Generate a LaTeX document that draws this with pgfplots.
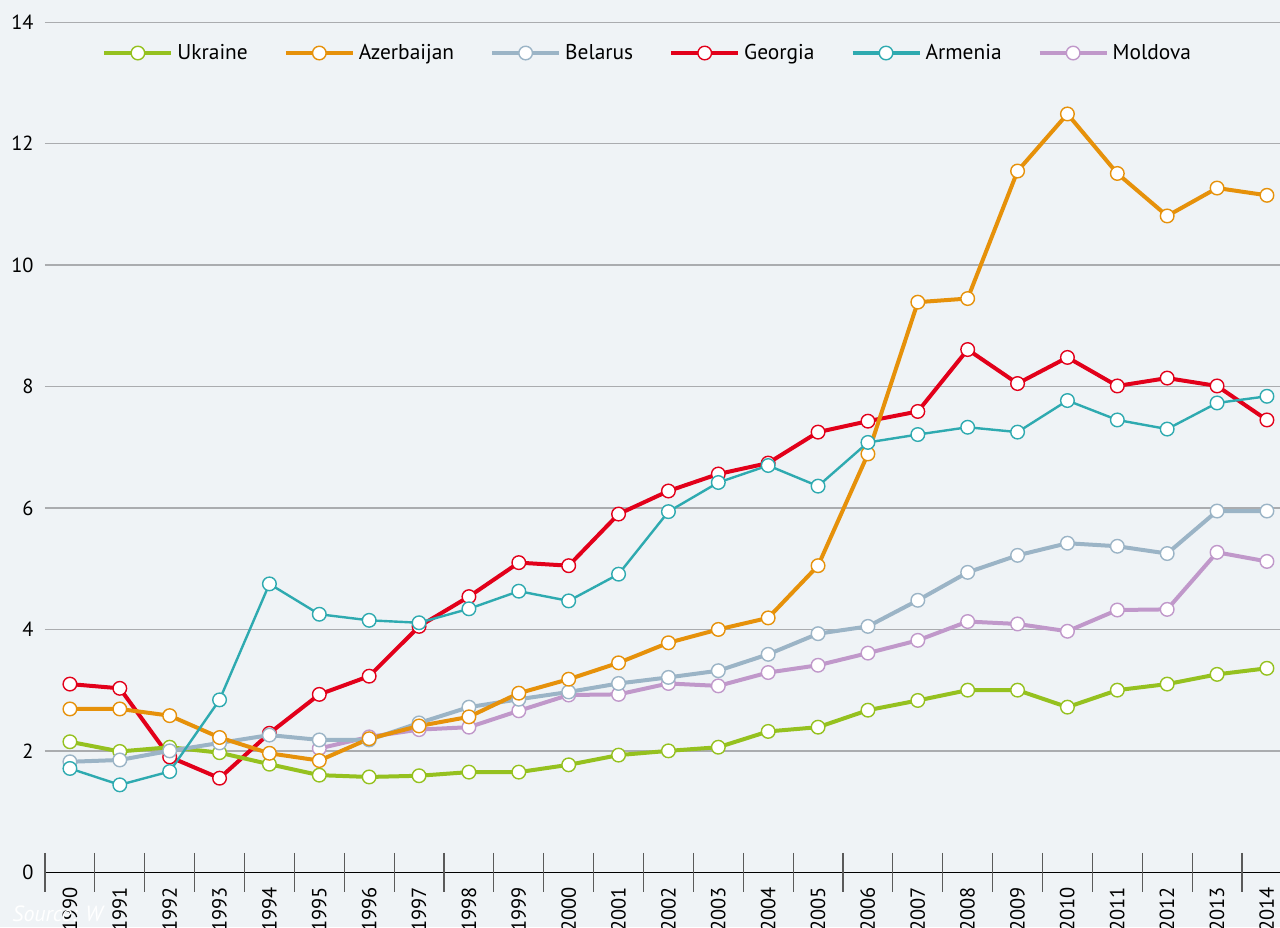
\documentclass[border=0pt]{standalone}
\usepackage{fontspec}
\setmainfont{PT Sans}
\usepackage{pgfplots}
\usepackage{pgfplotstable}
\pgfplotsset{compat=1.18}

\definecolor{bgc}{RGB}{239,243,246}
\definecolor{gridc}{RGB}{170,172,175}
\definecolor{tickc}{RGB}{90,90,90}
\definecolor{cukr}{RGB}{149,193,31}
\definecolor{caze}{RGB}{230,145,10}
\definecolor{cblr}{RGB}{155,180,198}
\definecolor{cgeo}{RGB}{226,0,26}
\definecolor{carm}{RGB}{46,170,176}
\definecolor{cmda}{RGB}{192,152,202}

% values
\pgfplotstableread{
year ukr  aze   blr  geo  arm  mda
1990 2.15 2.69  1.82 3.10 1.71 nan
1991 1.99 2.69  1.85 3.03 1.44 nan
1992 2.06 2.58  2.00 1.90 1.66 nan
1993 1.97 2.22  2.13 1.55 2.84 nan
1994 1.78 1.96  2.26 2.29 4.75 nan
1995 1.60 1.84  2.18 2.93 4.25 2.04
1996 1.57 2.20  2.18 3.23 4.15 2.23
1997 1.59 2.41  2.46 4.05 4.11 2.35
1998 1.65 2.56  2.72 4.54 4.34 2.39
1999 1.65 2.95  2.85 5.10 4.63 2.66
2000 1.77 3.18  2.97 5.05 4.47 2.92
2001 1.93 3.45  3.11 5.90 4.91 2.93
2002 2.00 3.78  3.21 6.28 5.94 3.11
2003 2.06 4.00  3.32 6.56 6.42 3.07
2004 2.32 4.19  3.59 6.74 6.70 3.29
2005 2.39 5.05  3.93 7.25 6.36 3.41
2006 2.67 6.89  4.05 7.43 7.08 3.61
2007 2.83 9.39  4.48 7.59 7.21 3.82
2008 3.00 9.45  4.94 8.61 7.33 4.13
2009 3.00 11.55 5.22 8.05 7.25 4.09
2010 2.72 12.49 5.42 8.48 7.77 3.97
2011 3.00 11.51 5.37 8.01 7.45 4.32
2012 3.10 10.81 5.25 8.14 7.30 4.33
2013 3.26 11.27 5.95 8.01 7.73 5.27
2014 3.36 11.15 5.95 7.45 7.84 5.12
}\data

\pgfplotsset{
  ser/.style={line width=2pt, mark=*, mark size=3.4pt,
    mark options={fill=white, line width=0.7pt}},
}

\begin{document}
\begin{tikzpicture}
\begin{axis}[
  scale only axis,
  width=640pt, height=463.5pt,
  xmin=1988.598, xmax=2014.262,
  ymin=-0.901, ymax=14.367,
  axis line style={draw=none},
  tick style={draw=none},
  axis background/.style={fill=bgc},
  xtick={1990,...,2014},
  ytick={0,2,...,14},
  /pgf/number format/1000 sep={},
  /pgf/number format/assume math mode=true,
  ticklabel style={font=\fontsize{10.2}{12}\selectfont},
  yticklabel style={anchor=east, inner sep=0pt, xshift=17pt},
  xticklabel style={rotate=90, anchor=east, inner sep=0pt, xshift=20.15pt},
  legend columns=6,
  legend style={at={(0.0797,0.9428)}, anchor=west, draw=none, fill=none,
    inner sep=0pt, font=\fontsize{10.7}{12}\selectfont,
    /tikz/every even column/.append style={column sep=16pt}},
  legend image code/.code={
    \draw[mark repeat=2, mark phase=2]
      plot coordinates {(0pt,0pt) (16.75pt,0pt) (33.5pt,0pt)};},
]
% grid and axis line
\pgfplotsinvokeforeach{2,4,6,8,10,12,14}{
  \draw[gridc, line width=0.7pt] (axis cs:1989.5,#1) -- (axis cs:2014.262,#1);
}
\draw[black, line width=0.7pt] (axis cs:1989.5,0) -- (axis cs:2014.262,0);
\pgfplotsinvokeforeach{1989.5,1990.5,1991.5,1992.5,1993.5,1994.5,1995.5,1996.5,1997.5,1998.5,1999.5,2000.5,2001.5,2002.5,2003.5,2004.5,2005.5,2006.5,2007.5,2008.5,2009.5,2010.5,2011.5,2012.5,2013.5}{
  \draw[tickc, line width=0.6pt] (axis cs:#1,0.321) -- (axis cs:#1,-0.321);
}
\node[anchor=base west, white, inner sep=0pt, font=\itshape\fontsize{11}{13}\selectfont]
  at (axis cs:1988.839,-0.814) {Source: W};

\addlegendimage{ser, color=cukr}
\addlegendimage{ser, color=caze}
\addlegendimage{ser, color=cblr}
\addlegendimage{ser, color=cgeo}
\addlegendimage{ser, color=carm}
\addlegendimage{ser, color=cmda}
\legend{Ukraine, Azerbaijan, Belarus, Georgia, Armenia, Moldova}

\addplot[ser, color=cmda, forget plot] table[x=year, y=mda] {\data};
\addplot[ser, color=cgeo, forget plot] table[x=year, y=geo] {\data};
\addplot[ser, color=cukr, forget plot] table[x=year, y=ukr] {\data};
\addplot[ser, color=cblr, forget plot] table[x=year, y=blr] {\data};
\addplot[ser, color=caze, forget plot] table[x=year, y=aze] {\data};
\addplot[ser, color=carm, line width=1.2pt, forget plot] table[x=year, y=arm] {\data};
\end{axis}
\pgfresetboundingbox
\path[use as bounding box] (current axis.south west) rectangle (current axis.north east);
\end{tikzpicture}
\end{document}
